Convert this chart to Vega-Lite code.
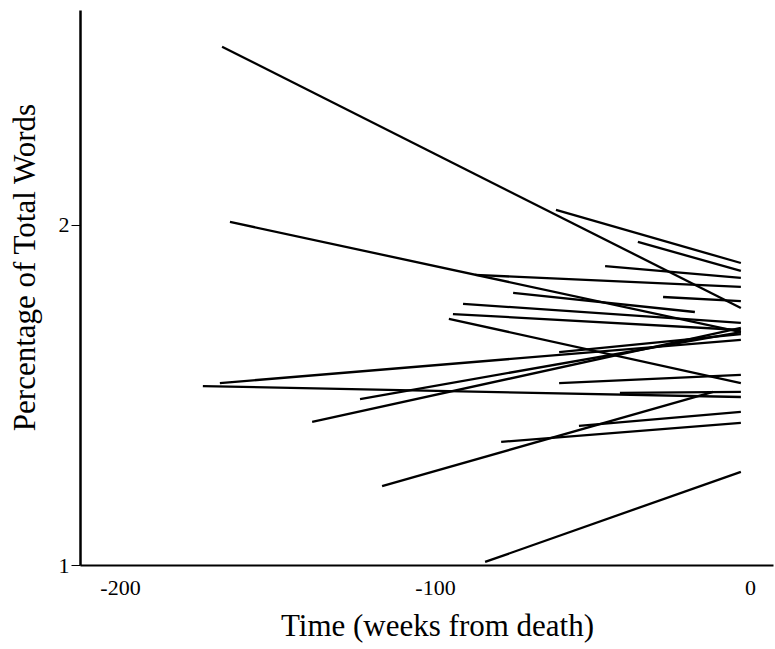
{
  "$schema": "https://vega.github.io/schema/vega-lite/v6.json",
  "autosize": {"type": "none"},
  "width": 693,
  "height": 555,
  "padding": {"left": 80, "top": 10, "right": 2, "bottom": 84},
  "background": "white",
  "config": {
    "view": {"stroke": null},
    "font": "Liberation Serif"
  },
  "data": {
    "values": [
      {"start_week": -167.6, "start_pct": 2.524, "end_week": -2.9, "end_pct": 1.756},
      {"start_week": -165.1, "start_pct": 2.009, "end_week": -2.9, "end_pct": 1.685},
      {"start_week": -61.6, "start_pct": 2.044, "end_week": -2.9, "end_pct": 1.888},
      {"start_week": -35.6, "start_pct": 1.950, "end_week": -2.9, "end_pct": 1.865},
      {"start_week": -46.0, "start_pct": 1.879, "end_week": -2.9, "end_pct": 1.844},
      {"start_week": -87.3, "start_pct": 1.853, "end_week": -2.9, "end_pct": 1.818},
      {"start_week": -75.2, "start_pct": 1.800, "end_week": -17.5, "end_pct": 1.744},
      {"start_week": -27.6, "start_pct": 1.788, "end_week": -2.9, "end_pct": 1.776},
      {"start_week": -91.1, "start_pct": 1.768, "end_week": -2.9, "end_pct": 1.712},
      {"start_week": -94.3, "start_pct": 1.738, "end_week": -2.9, "end_pct": 1.691},
      {"start_week": -95.6, "start_pct": 1.724, "end_week": -2.9, "end_pct": 1.535},
      {"start_week": -168.3, "start_pct": 1.535, "end_week": -2.9, "end_pct": 1.662},
      {"start_week": -173.7, "start_pct": 1.526, "end_week": -2.9, "end_pct": 1.494},
      {"start_week": -123.8, "start_pct": 1.488, "end_week": -2.9, "end_pct": 1.685},
      {"start_week": -139.0, "start_pct": 1.421, "end_week": -2.9, "end_pct": 1.697},
      {"start_week": -60.6, "start_pct": 1.626, "end_week": -2.9, "end_pct": 1.679},
      {"start_week": -60.6, "start_pct": 1.535, "end_week": -2.9, "end_pct": 1.559},
      {"start_week": -41.3, "start_pct": 1.506, "end_week": -2.9, "end_pct": 1.509},
      {"start_week": -116.8, "start_pct": 1.232, "end_week": -11.7, "end_pct": 1.509},
      {"start_week": -54.3, "start_pct": 1.409, "end_week": -2.9, "end_pct": 1.450},
      {"start_week": -79.0, "start_pct": 1.362, "end_week": -2.9, "end_pct": 1.418},
      {"start_week": -84.1, "start_pct": 1.009, "end_week": -2.9, "end_pct": 1.274}
    ]
  },
  "mark": {"type": "rule", "color": "black", "strokeWidth": 2.3, "strokeCap": "butt"},
  "encoding": {
    "x": {
      "field": "start_week",
      "type": "quantitative",
      "scale": {"domain": [-212.7, 7.3], "nice": false, "zero": false},
      "axis": {
        "title": "Time (weeks from death)",
        "values": [-200, -100, 0],
        "labelExpr": "'' + datum.value",
        "grid": false,
        "ticks": false,
        "domainColor": "black",
        "domainWidth": 2,
        "labelFont": "Liberation Serif",
        "labelFontSize": 22,
        "labelColor": "black",
        "labelPadding": 12,
        "labelFlush": false,
        "titleFont": "Liberation Serif",
        "titleFontSize": 31,
        "titleFontWeight": "normal",
        "titleColor": "black",
        "titleX": 357,
        "titleY": 46
      }
    },
    "x2": {"field": "end_week"},
    "y": {
      "field": "start_pct",
      "type": "quantitative",
      "scale": {"domain": [1, 2.632], "nice": false, "zero": false},
      "axis": {
        "title": "Percentage of Total Words",
        "values": [1, 2],
        "grid": false,
        "ticks": true,
        "tickSize": 9,
        "tickColor": "black",
        "tickWidth": 1,
        "domainColor": "black",
        "domainWidth": 2.5,
        "labelFont": "Liberation Serif",
        "labelFontSize": 22,
        "labelColor": "black",
        "labelPadding": 2,
        "titleFont": "Liberation Serif",
        "titleFontSize": 31,
        "titleFontWeight": "normal",
        "titleColor": "black",
        "titleX": -39,
        "titleY": 257
      }
    },
    "y2": {"field": "end_pct"}
  }
}
